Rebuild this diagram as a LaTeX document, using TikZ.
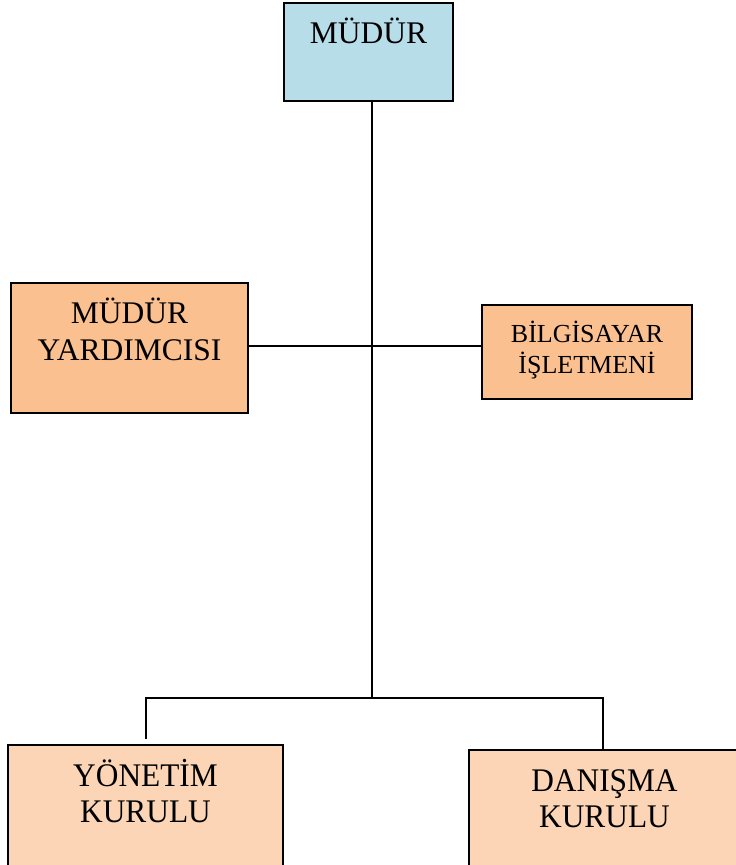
\documentclass[tikz,border=0pt]{standalone}
\usepackage{fontspec}
\setmainfont{Liberation Serif}
\newfontfamily\narrowserif{Liberation Serif}[FakeStretch=0.95]
\usepackage{tikz}
\usetikzlibrary{positioning}

\definecolor{topblue}{HTML}{B7DDE8}
\definecolor{midorange}{HTML}{FAC090}
\definecolor{loworange}{HTML}{FBD5B5}

\begin{document}
\begin{tikzpicture}[x=1pt,y=-1pt,
  box/.style={rectangle,draw=black,line width=2.2pt,inner sep=0pt},
  link/.style={line width=1.8pt},
  big text/.style={inner sep=0pt,align=center,font=\fontsize{31.5}{37}\selectfont},
  small text/.style={inner sep=0pt,align=center,font=\fontsize{26}{31}\selectfont},
  narrow text/.style={inner sep=0pt,align=center,font=\narrowserif\fontsize{33}{36}\selectfont}]

  \useasboundingbox (0,0) rectangle (736,865);

  \node[box,fill=topblue,minimum width=169pt,minimum height=98pt,
    label={[big text,yshift=21pt]center:MÜDÜR}] (mudur) at (368.5,52) {};
  \node[box,fill=midorange,minimum width=237pt,minimum height=130pt,
    label={[big text,yshift=19pt]center:MÜDÜR\\YARDIMCISI}] (yardimci) at (129.5,348) {};
  \node[box,fill=midorange,minimum width=210pt,minimum height=94pt,
    label={[small text,yshift=2pt]center:BİLGİSAYAR\\İŞLETMENİ}] (bilgisayar) at (587,352) {};
  \node[box,fill=loworange,minimum width=275pt,minimum height=121pt,
    label={[narrow text,yshift=14.5pt]center:YÖNETİM\\KURULU}] (yonetim) at (145.5,805.5) {};
  \node[box,fill=loworange,minimum width=271pt,minimum height=116pt,
    label={[narrow text,yshift=9pt]center:DANIŞMA\\KURULU}] (danisma) at (604.5,808) {};

  \coordinate (hub) at (372,346);
  \coordinate (bus) at (372,698);
  \coordinate (busL) at (146,698);
  \coordinate (busR) at (603,698);

  \draw[link] (bus |- mudur.south) -- (bus);
  \draw[link] (yardimci.east |- hub) -- (bilgisayar.west |- hub);
  \draw[link,shorten >=5pt] (busR |- danisma.north) -- (busR) -- (busL) -- (busL |- yonetim.north);
\end{tikzpicture}
\end{document}
